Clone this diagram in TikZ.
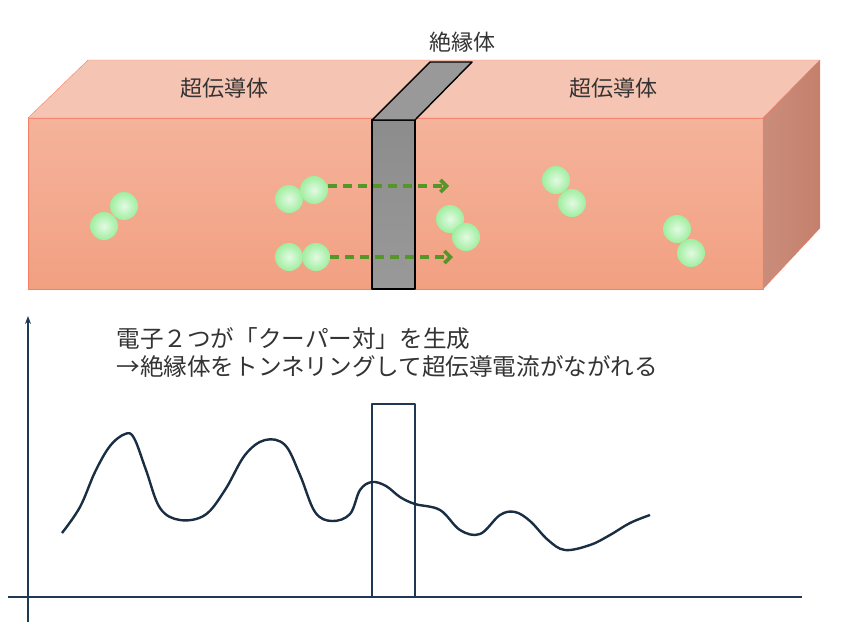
\documentclass[tikz,border=0pt]{standalone}
\usepackage{fontspec}
\setmainfont{Noto Sans CJK JP}
\usepackage{xcolor}
\usetikzlibrary{arrows.meta, positioning, calc}
\definecolor{scfront}{RGB}{242, 160, 130}
\definecolor{sctop}{RGB}{246, 196, 178}
\definecolor{scside}{RGB}{196, 128, 108}
\definecolor{axisblue}{RGB}{31, 56, 84}
\definecolor{pairgreen}{RGB}{84, 150, 40}
\definecolor{ballgreen}{RGB}{160, 238, 160}

\begin{document}
\begin{tikzpicture}[x=1pt, y=-1pt, line join=round,
    electron/.style={circle, inner sep=0pt, minimum size=28pt, inner color=white!70!ballgreen, outer color=ballgreen, draw=none},
    pairflow/.style={pairgreen, line width=3.6pt, dash pattern=on 9pt off 6pt, -{Straight Barb[length=6pt]}},
    label/.style={font=\fontsize{22}{30}\selectfont, text=black!80},
    caption/.style={font=\fontsize{23.6}{28}\selectfont, text=black!80}]
    \useasboundingbox (0,0) rectangle (858,638);

    % -- Superconductor block --
    \shade[top color=scfront!80!white, bottom color=scfront, draw=scfront!80!red] (28,118) rectangle (763,289);
    \fill[sctop, draw=scfront!80!red] (28,118) -- (88,60) -- (820,60) -- (763,118) -- cycle;
    \shade[left color=scside!90!white, right color=scside, draw=scfront!80!red] (763,118) -- (820,60) -- (820,228) -- (763,289) -- cycle;

    % -- Insulator --
    \shade[top color=gray!90, bottom color=gray!120!black, draw=black, line width=1.4pt] (372,120) rectangle (415,289);
    \fill[gray!80, draw=black, line width=1.4pt] (372,120) -- (430,62) -- (472,62) -- (415,120) -- cycle;

    \node[label] (scleft) at (224,88) {超伝導体};
    \node[label] (scright) at (613,88) {超伝導体};
    \node[label] (insul) at (462,42) {絶縁体};

    % -- Cooper pairs --
    \foreach \n/\x/\y in {a1/104/226, a2/124/206, b1/289/199, b2/314/190, c1/289/257, c2/316/257,
        d1/450/219, d2/466/237, e1/556/180, e2/572/203, f1/677/229, f2/691/253}
        \node[electron] (\n) at (\x,\y) {};

    \coordinate (flowA) at (449,186);
    \coordinate (flowB) at (453,257);
    \draw[pairflow] (b2.east |- flowA) -- (flowA);
    \draw[pairflow] (c2.east) -- (flowB);

    % -- Potential plot --
    \coordinate (yaxis) at (28,316);
    \coordinate (origin) at (28,622);
    \coordinate (xleft) at (8,597);
    \coordinate (xright) at (802,597);
    \draw[axisblue, line width=2pt, -{Stealth[length=8pt]}] (origin) -- (yaxis);
    \draw[axisblue, line width=2pt] (xleft) -- (xright);
    \draw[axisblue, line width=2pt] (372,597) -- (372,404) -- (415,404) -- (415,597);

    \draw[axisblue!80!black, line width=2.4pt] plot[smooth, tension=0.6] coordinates {
        (62,533) (80,507) (95,472) (110,446) (125,434) (134,438) (146,470) (160,508)
        (180,520) (205,515) (225,490) (245,455) (265,440) (285,445) (300,475)
        (315,512) (332,521) (350,514) (360,490) (372,482) (386,486) (400,497)
        (415,504) (440,510) (460,530) (480,534) (500,515) (515,512) (530,521)
        (548,540) (565,550) (590,545) (610,535) (630,523) (650,515)};

    \node[caption, anchor=west, align=left] (capt) at (113,352)
        {電子２つが「クーパー対」を生成\\→絶縁体をトンネリングして超伝導電流がながれる};
\end{tikzpicture}
\end{document}
